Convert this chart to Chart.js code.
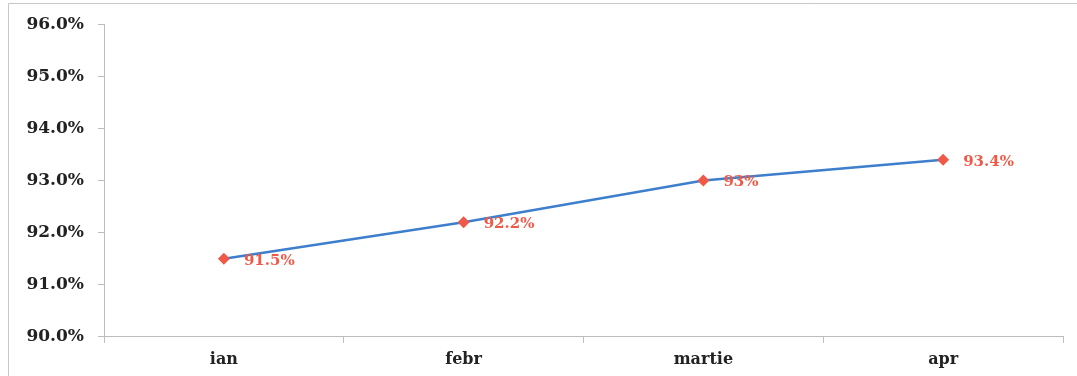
<!DOCTYPE html>
<html>
<head>
<meta charset="utf-8">
<script src="https://cdn.jsdelivr.net/npm/chart.js@4/dist/chart.umd.min.js"></script>
<style>
  html, body { margin: 0; padding: 0; background: #ffffff; }
  #wrap { position: relative; width: 1077px; height: 376px; }
</style>
</head>
<body>
<div id="wrap"><canvas id="c" width="1077" height="376"></canvas></div>
<script>
// Monthly rate, in percent
const months = ['ian', 'febr', 'martie', 'apr'];
const rates = [91.5, 92.2, 93, 93.4];
const yMin = 90;
const yMax = 96;
const yStep = 1;

const lineColor = '#3d7fcc';
const markColor = '#ef5a48';
const axisColor = '#bdbdbd';
const serif = '"DejaVu Serif", "Liberation Serif", serif';

// Light frame around the chart, plus value labels beside each point
const framePlugin = {
  id: 'frame',
  beforeDraw(chart) {
    const ctx = chart.ctx;
    ctx.save();
    ctx.strokeStyle = '#c8c8c8';
    ctx.lineWidth = 1;
    ctx.beginPath();
    ctx.moveTo(8.5, 400);
    ctx.lineTo(8.5, 3.5);
    ctx.lineTo(1100, 3.5);
    ctx.stroke();
    ctx.restore();
  }
};

const valueLabels = {
  id: 'valueLabels',
  afterDatasetsDraw(chart) {
    const ctx = chart.ctx;
    const meta = chart.getDatasetMeta(0);
    ctx.save();
    ctx.font = 'bold 15px ' + serif;
    ctx.fillStyle = markColor;
    ctx.textAlign = 'left';
    ctx.textBaseline = 'middle';
    meta.data.forEach((pt, i) => {
      ctx.fillText(rates[i] + '%', pt.x + 20, pt.y + 2);
    });
    ctx.restore();
  }
};

new Chart(document.getElementById('c'), {
  type: 'line',
  data: {
    labels: months,
    datasets: [{
      data: rates,
      borderColor: lineColor,
      borderWidth: 2.5,
      tension: 0,
      pointStyle: 'rectRot',
      pointRadius: 6,
      pointBackgroundColor: markColor,
      pointBorderColor: markColor,
      pointBorderWidth: 0
    }]
  },
  options: {
    responsive: false,
    animation: false,
    events: [],
    layout: { padding: { left: 0, right: 14, top: 23, bottom: 0 } },
    plugins: { legend: { display: false }, tooltip: { enabled: false } },
    scales: {
      x: {
        offset: true,
        grid: {
          offset: true,
          drawOnChartArea: false,
          drawTicks: true,
          tickLength: 6,
          color: axisColor
        },
        border: { color: axisColor, width: 1 },
        ticks: {
          color: '#222222',
          font: { family: serif, size: 16, weight: 'bold' },
          padding: 7
        }
      },
      y: {
        min: yMin,
        max: yMax,
        afterFit(scale) { scale.width = 104; },
        grid: {
          drawOnChartArea: false,
          drawTicks: true,
          tickLength: 6,
          color: axisColor
        },
        border: { color: axisColor, width: 1 },
        ticks: {
          stepSize: yStep,
          color: '#222222',
          font: { family: serif, size: 17, weight: 'bold' },
          padding: 14,
          callback: v => v.toFixed(1) + '%'
        }
      }
    }
  },
  plugins: [framePlugin, valueLabels]
});
</script>
</body>
</html>
